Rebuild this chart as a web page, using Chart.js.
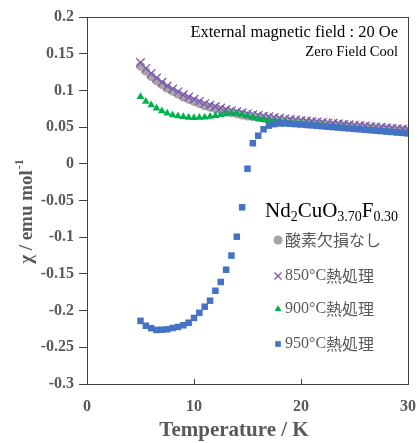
<!DOCTYPE html>
<html>
<head>
<meta charset="utf-8">
<script src="https://cdn.jsdelivr.net/npm/chart.js@4.4.1/dist/chart.umd.min.js"></script>
<style>
  html, body { margin: 0; padding: 0; background: #fff; }
  #wrap { width: 418px; height: 443px; position: relative; }
</style>
</head>
<body>
<div id="wrap"><canvas id="chi"></canvas></div>
<script>
// temperatures (K)
const temps = [5, 5.5, 6, 6.5, 7, 7.5, 8, 8.5, 9, 9.5, 10, 10.5, 11, 11.5, 12, 12.5, 13, 13.5, 14, 14.5,
  15, 15.5, 16, 16.5, 17, 17.5, 18, 18.5, 19, 19.5, 20, 20.5, 21, 21.5, 22, 22.5, 23, 23.5, 24, 24.5,
  25, 25.5, 26, 26.5, 27, 27.5, 28, 28.5, 29, 29.5, 30];

// 酸素欠損なし
const chiNoDefect = [0.133, 0.126, 0.119, 0.113, 0.108, 0.103, 0.099, 0.095, 0.091, 0.088, 0.085, 0.082, 0.079, 0.077, 0.075, 0.073, 0.071, 0.0695, 0.068, 0.0665,
  0.065, 0.064, 0.063, 0.062, 0.061, 0.060, 0.059, 0.0583, 0.0576, 0.0569, 0.0562, 0.0556, 0.055, 0.0544, 0.0538, 0.0532, 0.0526, 0.052, 0.0514, 0.0508,
  0.0502, 0.0497, 0.0491, 0.0486, 0.048, 0.0475, 0.0469, 0.0464, 0.0458, 0.0453, 0.0448];

// 850℃熱処理
const chi850 = [0.138, 0.130, 0.123, 0.117, 0.111, 0.106, 0.102, 0.098, 0.094, 0.091, 0.088, 0.085, 0.082, 0.080, 0.078, 0.076, 0.074, 0.0725, 0.071, 0.0695,
  0.068, 0.067, 0.066, 0.065, 0.064, 0.063, 0.062, 0.0612, 0.0604, 0.0597, 0.059, 0.0583, 0.0577, 0.057, 0.0564, 0.0558, 0.0552, 0.0545, 0.0539, 0.0533,
  0.0527, 0.0521, 0.0515, 0.0509, 0.0503, 0.0497, 0.0491, 0.0485, 0.0479, 0.0473, 0.0467];

// 900℃熱処理
const chi900 = [0.0914, 0.085, 0.080, 0.0756, 0.072, 0.069, 0.0665, 0.065, 0.064, 0.0632, 0.0628, 0.063, 0.0635, 0.0643, 0.0655, 0.0668, 0.068, 0.0688, 0.0685, 0.067,
  0.065, 0.0632, 0.0615, 0.060, 0.0588, 0.058, 0.0574, 0.0567, 0.056, 0.0553, 0.0546, 0.0539, 0.0532, 0.0525, 0.0518, 0.0511, 0.0504, 0.0497, 0.049, 0.0483,
  0.0476, 0.0469, 0.0462, 0.0455, 0.0448, 0.0441, 0.0434, 0.0427, 0.042, 0.0413, 0.0406];

// 950℃熱処理
const chi950 = [-0.214, -0.2206, -0.224, -0.2264, -0.226, -0.2255, -0.2237, -0.2223, -0.220, -0.2165, -0.210, -0.203, -0.1947, -0.1865, -0.173, -0.161, -0.1443, -0.125, -0.0993, -0.0593,
  -0.0067, 0.028, 0.0383, 0.047, 0.052, 0.054, 0.055, 0.055, 0.0545, 0.054, 0.0535, 0.0529, 0.0523, 0.0517, 0.0511, 0.0505, 0.0499, 0.0493, 0.0487, 0.0481,
  0.0475, 0.0469, 0.0463, 0.0457, 0.0451, 0.0445, 0.0439, 0.0433, 0.0427, 0.0421, 0.0415];

const seriesNames = ["酸素欠損なし", "850℃熱処理", "900℃熱処理", "950℃熱処理"];
const xTicks = [0, 10, 20, 30];

const SERIF = "'Liberation Serif', 'Times New Roman', serif";
const CJK = "'Noto Sans CJK JP', sans-serif";
const GREY_TXT = "#595959";

function pts(ys) {
    return temps.map((t, i) => ({ x: t, y: ys[i] }));
}

// draws frame, inner x ticks, axis titles, notes and legend
const decorPlugin = {
    id: "decor",
    afterDraw: (chart) => {
        const { ctx, chartArea: a, scales } = chart;
        ctx.save();

        // frame
        ctx.strokeStyle = "#404040";
        ctx.lineWidth = 1;
        ctx.strokeRect(Math.round(a.left) + 0.5, Math.round(a.top) + 0.5,
            Math.round(a.right - a.left), Math.round(a.bottom - a.top));

        // x ticks pointing inward
        xTicks.forEach((v) => {
            const x = Math.round(scales.x.getPixelForValue(v)) + 0.5;
            ctx.beginPath();
            ctx.moveTo(x, a.bottom);
            ctx.lineTo(x, a.bottom - 5);
            ctx.stroke();
        });

        // x title
        ctx.fillStyle = GREY_TXT;
        ctx.font = "bold 21px " + SERIF;
        ctx.textAlign = "center";
        ctx.textBaseline = "middle";
        ctx.fillText("Temperature / K", 234, 431);

        // y title with superscript
        ctx.save();
        ctx.translate(27, 212);
        ctx.rotate(-Math.PI / 2);
        ctx.font = "bold 19px " + SERIF;
        const main = "χ / emu mol";
        const wMain = ctx.measureText(main).width;
        ctx.font = "bold 12px " + SERIF;
        const wSup = ctx.measureText("-1").width;
        const start = -(wMain + wSup) / 2;
        ctx.textAlign = "left";
        ctx.font = "bold 19px " + SERIF;
        ctx.fillText(main, start, 0);
        ctx.font = "bold 12px " + SERIF;
        ctx.fillText("-1", start + wMain + 1, -7);
        ctx.restore();

        // notes top right
        ctx.fillStyle = "#000";
        ctx.textAlign = "right";
        ctx.font = "16.5px " + SERIF;
        ctx.fillText("External magnetic field : 20 Oe", 398, 33);
        ctx.font = "14.5px " + SERIF;
        ctx.fillText("Zero Field Cool", 398, 52);

        // legend title Nd2CuO3.70F0.30
        const parts = [
            ["Nd", false], ["2", true], ["CuO", false], ["3.70", true], ["F", false], ["0.30", true],
        ];
        let x = 265;
        const base = 217;
        ctx.textAlign = "left";
        ctx.textBaseline = "alphabetic";
        parts.forEach(([txt, sub]) => {
            ctx.font = (sub ? "14px " : "21px ") + SERIF;
            ctx.fillText(txt, x, sub ? base + 4 : base);
            x += ctx.measureText(txt).width;
        });

        // legend entries
        const rows = [240, 276, 309, 344];
        const ds = chart.data.datasets;
        rows.forEach((y, i) => {
            const d = ds[i];
            ctx.fillStyle = d.backgroundColor;
            ctx.strokeStyle = d.borderColor;
            ctx.lineWidth = d.borderWidth;
            Chart.helpers.drawPoint(ctx, {
                pointStyle: d.pointStyle,
                radius: d.legendRadius,
                borderWidth: d.borderWidth,
            }, 278, y);

            ctx.fillStyle = GREY_TXT;
            ctx.textBaseline = "middle";
            const name = seriesNames[i];
            let tx = 285;
            const m = name.match(/^(\d+)℃(.*)$/);
            if (m) {
                const num = m[1] + "°C";
                ctx.font = "16px " + SERIF;
                ctx.fillText(num, tx, y);
                tx += ctx.measureText(num).width;
                ctx.font = "16px " + CJK;
                ctx.fillText(m[2], tx, y);
            } else {
                ctx.font = "16px " + CJK;
                ctx.fillText(name, tx, y);
            }
        });

        ctx.restore();
    },
};

const ctx = document.getElementById("chi").getContext("2d");
new Chart(ctx, {
    type: "scatter",
    plugins: [decorPlugin],
    data: {
        datasets: [
            {
                label: seriesNames[0],
                data: pts(chiNoDefect),
                pointStyle: "circle",
                pointRadius: 4.5,
                legendRadius: 4.5,
                backgroundColor: "#A5A5A5",
                borderColor: "#A5A5A5",
                borderWidth: 0,
                order: 4,
            },
            {
                label: seriesNames[1],
                data: pts(chi850),
                pointStyle: "crossRot",
                pointRadius: 6,
                legendRadius: 5,
                backgroundColor: "#7E57B5",
                borderColor: "#7E57B5",
                borderWidth: 1.3,
                order: 3,
            },
            {
                label: seriesNames[2],
                data: pts(chi900),
                pointStyle: "triangle",
                pointRadius: 4.5,
                legendRadius: 4,
                backgroundColor: "#00B050",
                borderColor: "#00B050",
                borderWidth: 0,
                order: 2,
            },
            {
                label: seriesNames[3],
                data: pts(chi950),
                pointStyle: "rect",
                pointRadius: 4.6,
                legendRadius: 4,
                backgroundColor: "#4472C4",
                borderColor: "#4472C4",
                borderWidth: 0,
                order: 1,
            },
        ],
    },
    options: {
        responsive: true,
        maintainAspectRatio: false,
        animation: false,
        layout: { padding: { top: 17, right: 10, left: 0, bottom: 0 } },
        plugins: {
            legend: { display: false },
            tooltip: { enabled: false },
        },
        scales: {
            x: {
                type: "linear",
                min: 0,
                max: 30,
                afterFit: (s) => {
                    s.height = 59;
                    s.paddingLeft = 0;
                    s.paddingRight = 0;
                },
                afterBuildTicks: (s) => { s.ticks = xTicks.map((v) => ({ value: v })); },
                ticks: {
                    padding: 13,
                    color: GREY_TXT,
                    font: { family: SERIF, size: 16, weight: "bold" },
                },
                grid: { display: false, drawTicks: false },
                border: { display: false },
            },
            y: {
                type: "linear",
                min: -0.3,
                max: 0.2,
                afterFit: (s) => {
                    s.width = 87;
                    s.paddingTop = 0;
                    s.paddingBottom = 0;
                },
                ticks: {
                    stepSize: 0.05,
                    padding: 5,
                    color: GREY_TXT,
                    font: { family: SERIF, size: 16, weight: "bold" },
                    callback: (v) => String(Math.round(v * 100) / 100),
                },
                grid: {
                    drawOnChartArea: false,
                    drawTicks: true,
                    tickLength: 8,
                    color: "#404040",
                },
                border: { display: false },
            },
        },
    },
});
</script>
</body>
</html>
